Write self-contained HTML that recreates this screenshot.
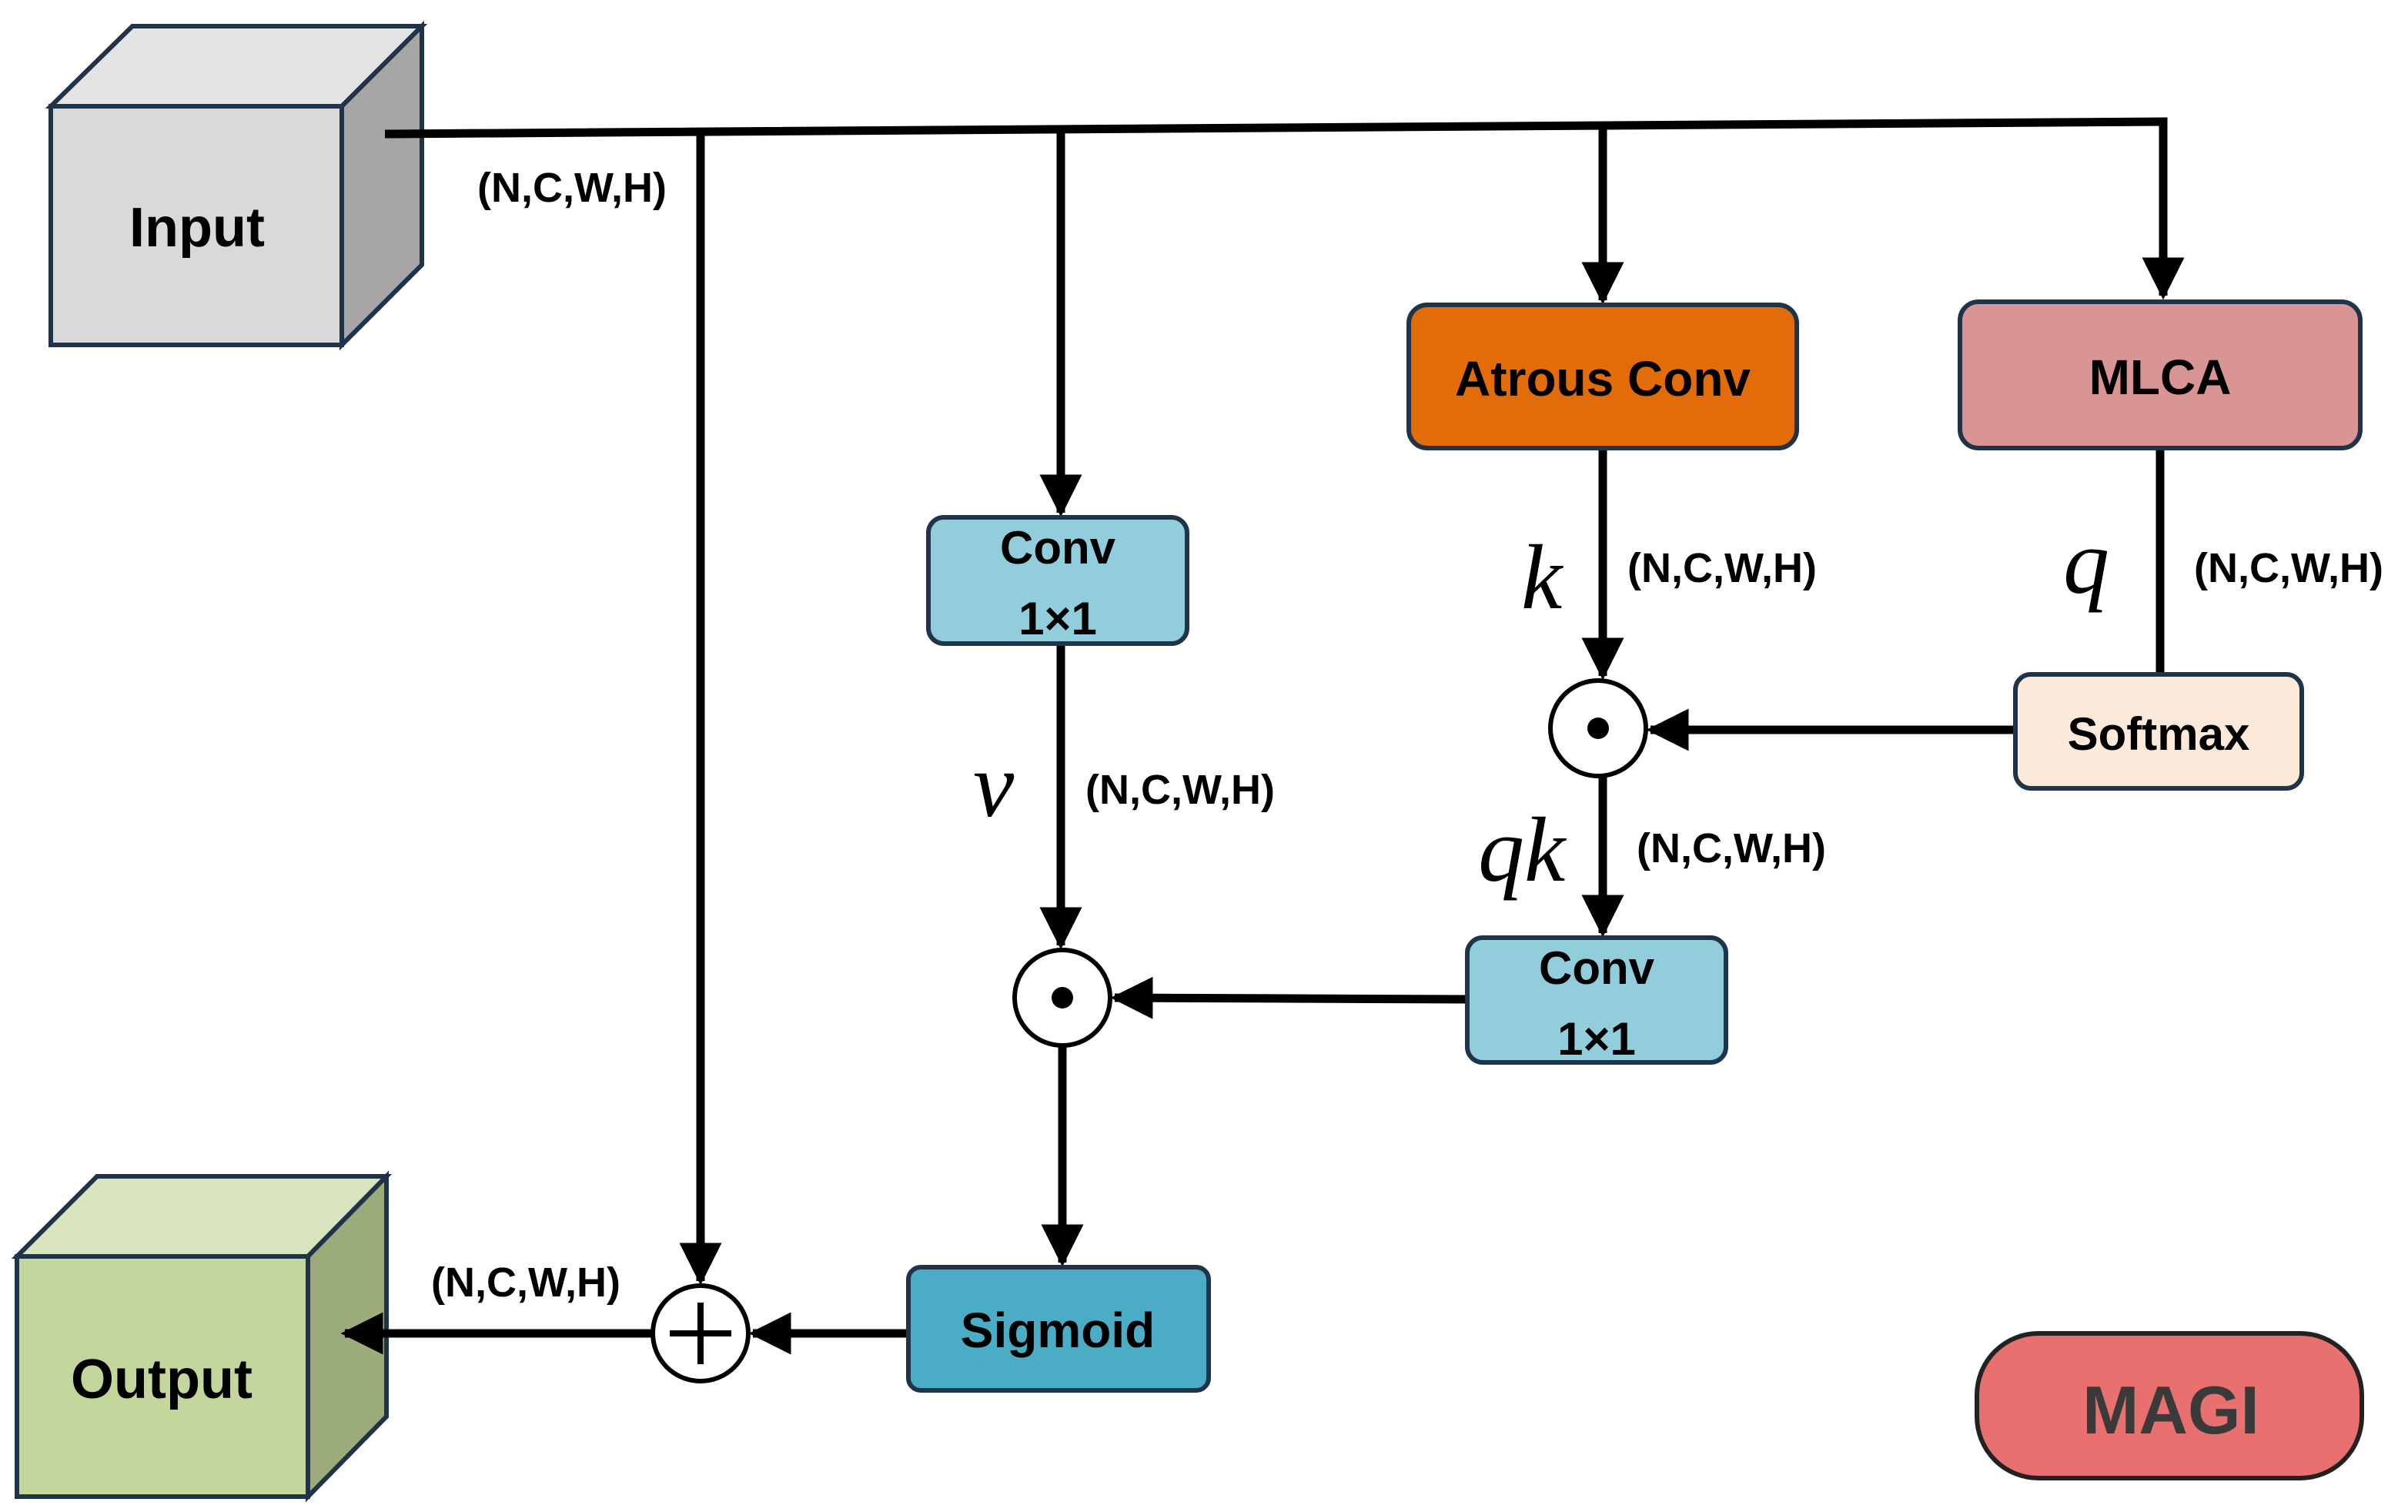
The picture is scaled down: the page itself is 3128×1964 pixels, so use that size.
<!DOCTYPE html>
<html><head><meta charset="utf-8"><style>
html,body{margin:0;padding:0;background:#fff;}
svg{display:block;}
text{font-family:"Liberation Sans","DejaVu Sans",sans-serif;font-weight:bold;}
.it{font-family:"Liberation Serif",serif;font-style:italic;font-weight:normal;}
</style></head><body>
<svg width="3128" height="1964" viewBox="0 0 1564 982" preserveAspectRatio="none" xmlns="http://www.w3.org/2000/svg">
<defs>
<marker id="a" markerWidth="5" markerHeight="5" refX="4.5" refY="2.5" orient="auto" markerUnits="strokeWidth"><path d="M0,0 L5,2.5 L0,5 z" fill="#000"/></marker>
</defs>
<polygon points="33,69 86,17 274,17 222,69" fill="#e4e4e4" stroke="#1f3349" stroke-width="3"/>
<polygon points="222,69 274,17 274,172 222,224" fill="#a6a6a6" stroke="#1f3349" stroke-width="3"/>
<rect x="33" y="69" width="189" height="155" fill="#d9d9d9" stroke="#1f3349" stroke-width="3"/>
<text x="128" y="160" font-size="36" text-anchor="middle">Input</text>
<polygon points="11,816 63,764 251,764 200,816" fill="#d7e4bd" stroke="#1f3349" stroke-width="3"/>
<polygon points="200,816 251,764 251,920 200,972" fill="#9bab7a" stroke="#1f3349" stroke-width="3"/>
<rect x="11" y="816" width="189" height="156" fill="#c3d69b" stroke="#1f3349" stroke-width="3"/>
<text x="105" y="908" font-size="36" text-anchor="middle">Output</text>
<g stroke="#000" stroke-width="5.5" fill="none">
<polyline points="250,87 1405,79 1405,192" marker-end="url(#a)"/>
<line x1="455" y1="87" x2="455" y2="832" marker-end="url(#a)"/>
<line x1="689" y1="86" x2="689" y2="333" marker-end="url(#a)"/>
<line x1="1041" y1="84" x2="1041" y2="195" marker-end="url(#a)"/>
<line x1="1041" y1="291" x2="1041" y2="439" marker-end="url(#a)"/>
<line x1="1403" y1="291" x2="1403" y2="438"/>
<line x1="1309" y1="474" x2="1072" y2="474" marker-end="url(#a)"/>
<line x1="1041" y1="505" x2="1041" y2="606" marker-end="url(#a)"/>
<line x1="689" y1="418" x2="689" y2="614" marker-end="url(#a)"/>
<line x1="953" y1="649" x2="724" y2="648" marker-end="url(#a)"/>
<line x1="690" y1="680" x2="690" y2="820" marker-end="url(#a)"/>
<line x1="590" y1="866" x2="489" y2="866" marker-end="url(#a)"/>
<line x1="423" y1="866" x2="224" y2="866" marker-end="url(#a)"/>
</g>
<rect x="915" y="198" width="252" height="93" rx="12" fill="#e36c0a" stroke="#1f3349" stroke-width="3"/>
<text x="1041" y="257" font-size="32" text-anchor="middle">Atrous Conv</text>
<rect x="1273" y="196" width="260" height="95" rx="12" fill="#d99594" stroke="#1f3349" stroke-width="3"/>
<text x="1403" y="256" font-size="32" text-anchor="middle">MLCA</text>
<rect x="603" y="336" width="168" height="82" rx="10" fill="#92cddc" stroke="#1f3349" stroke-width="3"/>
<text x="687" y="366" font-size="30" text-anchor="middle">Conv</text>
<text x="687" y="412" font-size="30" text-anchor="middle">1×1</text>
<rect x="953" y="609" width="168" height="81" rx="10" fill="#92cddc" stroke="#1f3349" stroke-width="3"/>
<text x="1037" y="639" font-size="30" text-anchor="middle">Conv</text>
<text x="1037" y="685" font-size="30" text-anchor="middle">1×1</text>
<rect x="1309" y="438" width="186" height="74" rx="10" fill="#fde9d9" stroke="#1f3349" stroke-width="3"/>
<text x="1402" y="487" font-size="30" text-anchor="middle">Softmax</text>
<rect x="590" y="823" width="195" height="80" rx="8" fill="#4bacc6" stroke="#1f3349" stroke-width="3"/>
<text x="687" y="875" font-size="32" text-anchor="middle">Sigmoid</text>
<rect x="1284" y="866" width="250" height="94" rx="40" fill="#e8706e" stroke="#222" stroke-width="3"/>
<text x="1410" y="931" font-size="44" text-anchor="middle" fill="#3a3a3a">MAGI</text>
<circle cx="1038" cy="473" r="31" fill="#fff" stroke="#000" stroke-width="3"/>
<circle cx="1038" cy="473" r="7" fill="#000"/>
<circle cx="690" cy="648" r="31" fill="#fff" stroke="#000" stroke-width="3"/>
<circle cx="690" cy="648" r="7" fill="#000"/>
<circle cx="455" cy="866" r="31" fill="#fff" stroke="#000" stroke-width="3"/>
<path d="M455,846 V886 M435,866 H475" stroke="#000" stroke-width="4"/>
<g font-size="27">
<text x="310" y="131">(N,C,W,H)</text>
<text x="705" y="522">(N,C,W,H)</text>
<text x="1057" y="378">(N,C,W,H)</text>
<text x="1425" y="378">(N,C,W,H)</text>
<text x="1063" y="560">(N,C,W,H)</text>
<text x="280" y="842">(N,C,W,H)</text>
</g>
<text class="it" x="988" y="395" font-size="60">k</text>
<text class="it" x="1340" y="385" font-size="60">q</text>
<text class="it" x="632" y="530" font-size="60">v</text>
<text class="it" x="960" y="572" font-size="60">qk</text>
</svg>
</body></html>
